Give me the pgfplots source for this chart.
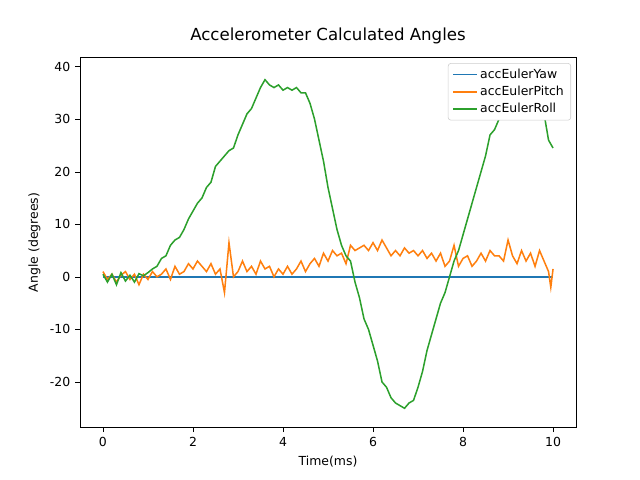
\documentclass[border=0pt]{standalone}
\usepackage{pgfplots}
\pgfplotsset{compat=1.18}
\usepackage{fontspec}
\setmainfont{DejaVu Sans}
\definecolor{c1}{HTML}{1F77B4}
\definecolor{c2}{HTML}{FF7F0E}
\definecolor{c3}{HTML}{2CA02C}
\begin{document}
\begin{tikzpicture}
\useasboundingbox (0,0) rectangle (6.4in,4.8in);
\begin{axis}[at={(0.8in,0.528in)},anchor=south west,scale only axis,
width=4.96in,height=3.696in,xmin=-0.51,xmax=10.51,ymin=-28.6,ymax=41.7,
xtick={0,2,4,6,8,10},ytick={-20,-10,0,10,20,30,40},
xtick pos=bottom,ytick pos=left,
tick align=outside,tick style={black},major tick length=3.5pt,
tick label style={font=\small},/pgf/number format/assume math mode=true,
xlabel={Time(ms)},ylabel={Angle (degrees)},
title={Accelerometer Calculated Angles},title style={font=\large},
label style={font=\small},
legend style={at={(0.99,0.985)},anchor=north east,font=\small,draw=black!20,rounded corners=2pt},
legend cell align=left,
every axis plot/.append style={line width=1.1pt},
legend image code/.code={\draw[#1,line width=1.1pt] (0cm,0cm) -- (0.6cm,0cm);},
]
\addplot[c1] coordinates {(0,0)(10,0)};
\addlegendentry{accEulerYaw}
\addplot[c2] coordinates {(0,1)(0.1,-0.5)(0.2,0.5)(0.3,-1)(0.4,0.3)(0.5,1)(0.6,-0.5)(0.7,0.5)(0.8,-1.5)(0.9,0.5)(1.0,-0.5)(1.1,1)(1.2,0)(1.3,0.5)(1.4,1.5)(1.5,-0.5)(1.6,2)(1.7,0.5)(1.8,1)(1.9,2.5)(2.0,1.5)(2.1,3)(2.2,2)(2.3,1)(2.4,2.5)(2.5,0.5)(2.6,1.5)(2.7,-3)(2.8,6.5)(2.9,0)(3.0,1)(3.1,3)(3.2,1)(3.3,2)(3.4,0.5)(3.5,3)(3.6,1.5)(3.7,2)(3.8,0)(3.9,1.5)(4.0,0.5)(4.1,2)(4.2,0.5)(4.3,1.5)(4.4,3)(4.5,1)(4.6,2.5)(4.7,3.5)(4.8,2)(4.9,4.5)(5.0,3)(5.1,5)(5.2,4)(5.3,4.5)(5.4,2.5)(5.5,6)(5.6,5)(5.7,5.5)(5.8,6)(5.9,5)(6.0,6.5)(6.1,5)(6.2,7)(6.3,5.5)(6.4,4)(6.5,5)(6.6,4)(6.7,5.5)(6.8,4.5)(6.9,5)(7.0,4)(7.1,5)(7.2,3.5)(7.3,4.5)(7.4,3)(7.5,4.5)(7.6,2)(7.7,3)(7.8,6)(7.9,2)(8.0,3.5)(8.1,4)(8.2,2)(8.3,3)(8.4,4.5)(8.5,3)(8.6,5)(8.7,4)(8.8,4)(8.9,3)(9.0,7)(9.1,4)(9.2,2.5)(9.3,5)(9.4,3)(9.5,4.5)(9.6,2)(9.7,5)(9.8,3)(9.9,1)(9.95,-2)(10,1.5)};
\addlegendentry{accEulerPitch}
\addplot[c3] coordinates {(0,0.5)(0.1,-1)(0.2,0.5)(0.3,-1.5)(0.4,0.8)(0.5,-0.8)(0.6,0.3)(0.7,-1)(0.8,0.6)(0.9,0.2)(1.0,0.8)(1.1,1.5)(1.2,2)(1.3,3.5)(1.4,4)(1.5,6)(1.6,7)(1.7,7.5)(1.8,9)(1.9,11)(2.0,12.5)(2.1,14)(2.2,15)(2.3,17)(2.4,18)(2.5,21)(2.6,22)(2.7,23)(2.8,24)(2.9,24.5)(3.0,27)(3.1,29)(3.2,31)(3.3,32)(3.4,34)(3.5,36)(3.6,37.5)(3.7,36.5)(3.8,36)(3.9,36.5)(4.0,35.5)(4.1,36)(4.2,35.5)(4.3,36)(4.4,35)(4.5,35)(4.6,33)(4.7,30)(4.8,26)(4.9,22)(5.0,17)(5.1,13)(5.2,9)(5.3,6)(5.4,4)(5.5,3)(5.6,-1)(5.7,-4)(5.8,-8)(5.9,-10)(6.0,-13)(6.1,-16)(6.2,-20)(6.3,-21)(6.4,-23)(6.5,-24)(6.6,-24.5)(6.7,-25)(6.8,-24)(6.9,-23.5)(7.0,-21)(7.1,-18)(7.2,-14)(7.3,-11)(7.4,-8)(7.5,-5)(7.6,-3)(7.7,0)(7.8,3)(7.9,5)(8.0,8)(8.1,11)(8.2,14)(8.3,17)(8.4,20)(8.5,23)(8.6,27)(8.7,28)(8.8,30)(8.9,31)(9.0,33)(9.1,34)(9.2,35)(9.3,35.5)(9.4,37)(9.5,36)(9.6,35)(9.7,33)(9.8,31)(9.9,26)(10,24.5)};
\addlegendentry{accEulerRoll}
\end{axis}
\end{tikzpicture}
\end{document}
